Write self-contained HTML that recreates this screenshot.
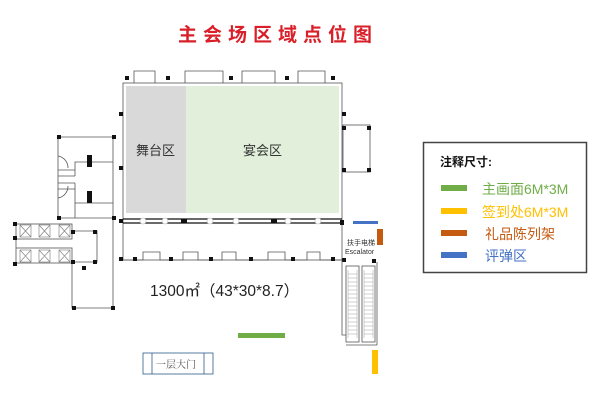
<!DOCTYPE html>
<html><head><meta charset="utf-8"><style>
html,body{margin:0;padding:0;background:#fff;}
svg{display:block;font-family:"Liberation Sans","Noto Sans CJK SC",sans-serif;}
</style></head><body>
<svg width="600" height="400" viewBox="0 0 600 400" xmlns="http://www.w3.org/2000/svg">
<rect width="600" height="400" fill="#fff"/>
<text x="178" y="41" font-size="19" font-weight="bold" fill="#d9202a" letter-spacing="6" font-family="'Noto Sans CJK SC',sans-serif">主会场区域点位图</text>

<!-- main hall -->
<g fill="none" stroke="#555" stroke-width="0.8">
<rect x="123" y="83" width="219" height="177"/>
<polyline points="134,83 134,71 155,71 155,83"/>
<polyline points="185,83 185,71 223,71 223,83"/>
<polyline points="242,83 242,71 275,71 275,83"/>
<polyline points="298,83 298,71 325,71 325,83"/>
<rect x="343" y="125" width="27" height="47"/>
<polyline points="123,260 143,260 143,252 160,252 160,260 183,260 183,252 198,252 198,260 222,260 222,252 236,252 236,260 268,260 268,252 285,252 285,260 307,260 307,252 320,252 320,260 342,260"/>
</g>
<rect x="126" y="86" width="60" height="127" fill="#d9d9d9"/>
<rect x="186" y="86" width="153" height="127" fill="#e2efda"/>
<text x="136" y="155" font-size="13" fill="#333" font-family="'Noto Sans CJK SC',sans-serif">舞台区</text>
<text x="243" y="155" font-size="13" fill="#333" font-family="'Noto Sans CJK SC',sans-serif">宴会区</text>
<!-- double wall -->
<line x1="123" y1="219" x2="342" y2="219" stroke="#111" stroke-width="1.2"/>
<line x1="123" y1="223" x2="342" y2="223" stroke="#111" stroke-width="1.2"/>
<g fill="#fff" stroke="#bbb" stroke-width="0.6">
<circle cx="143" cy="221" r="3"/><circle cx="165" cy="221" r="3"/><circle cx="210" cy="221" r="3"/><circle cx="236" cy="221" r="3"/><circle cx="288" cy="221" r="3"/><circle cx="318" cy="221" r="3"/>
</g>
<g fill="#111">
<rect x="125" y="76" width="4" height="4"/><rect x="166" y="76" width="4" height="4"/><rect x="229" y="76" width="4" height="4"/><rect x="285" y="76" width="4" height="4"/><rect x="331" y="76" width="4" height="4"/>
<rect x="119" y="112" width="4" height="4"/><rect x="342" y="112" width="4" height="4"/>
<rect x="119" y="166" width="4" height="4"/><rect x="342" y="126" width="4" height="4"/><rect x="342" y="168" width="4" height="4"/><rect x="367" y="126" width="4" height="4"/><rect x="367" y="168" width="4" height="4"/>
<rect x="119" y="219" width="4" height="4"/><rect x="181" y="219" width="6" height="4"/><rect x="271" y="219" width="6" height="4"/><rect x="340" y="220" width="4" height="5"/>
<rect x="119" y="257" width="4" height="4"/><rect x="133" y="257" width="4" height="4"/><rect x="169" y="257" width="4" height="4"/><rect x="209" y="257" width="4" height="4"/><rect x="249" y="257" width="4" height="4"/><rect x="291" y="257" width="4" height="4"/><rect x="331" y="257" width="4" height="4"/><rect x="342" y="258" width="4" height="4"/><rect x="372" y="259" width="4" height="4"/>
</g>

<!-- left toilets -->
<g fill="none" stroke="#555" stroke-width="0.8">
<polyline points="58,137 113,137 113,218 58,218 58,137"/>
<line x1="58" y1="170" x2="75" y2="170"/><line x1="58" y1="176" x2="75" y2="176"/>
<line x1="58" y1="183" x2="75" y2="183"/><line x1="58" y1="189" x2="75" y2="189"/>
<polyline points="75,176 75,162 113,162"/><polyline points="75,183 75,203 113,203"/>
<line x1="75" y1="203" x2="75" y2="218"/>
<path d="M58,156 A12,12 0 0 1 68,168"/><path d="M58,198 A12,12 0 0 0 68,186"/>
<rect x="16" y="224" width="56" height="15"/><rect x="16" y="248" width="56" height="15"/>
<polyline points="72,231 97,231 97,262 72,262"/>
<polyline points="72,263 72,308 113,308 113,220"/>
<line x1="16" y1="239" x2="16" y2="248"/>
</g>
<g fill="#111">
<rect x="57" y="135" width="4" height="4"/><rect x="112" y="135" width="4" height="4"/><rect x="57" y="216" width="4" height="4"/><rect x="112" y="216" width="4" height="4"/>
<rect x="13" y="222" width="4" height="4"/><rect x="13" y="236" width="4" height="4"/><rect x="13" y="262" width="4" height="4"/><rect x="71" y="230" width="4" height="4"/><rect x="93" y="230" width="4" height="4"/><rect x="71" y="260" width="4" height="4"/><rect x="93" y="260" width="4" height="4"/><rect x="82" y="266" width="4" height="4"/><rect x="72" y="306" width="4" height="4"/><rect x="111" y="306" width="4" height="4"/>
<rect x="87" y="155" width="5" height="12"/><rect x="87" y="191" width="5" height="12"/>
</g>
<g stroke="#777" stroke-width="0.6" fill="none">
<rect x="20" y="225" width="11" height="12"/><rect x="39" y="225" width="11" height="12"/><rect x="59" y="225" width="11" height="12"/>
<rect x="20" y="250" width="11" height="12"/><rect x="39" y="250" width="11" height="12"/><rect x="59" y="250" width="11" height="12"/>
<path d="M20,225 L31,237 M31,225 L20,237 M39,225 L50,237 M50,225 L39,237 M59,225 L70,237 M70,225 L59,237 M20,250 L31,262 M31,250 L20,262 M39,250 L50,262 M50,250 L39,262 M59,250 L70,262 M70,250 L59,262"/>
</g>

<!-- escalator -->
<text x="347" y="245" font-size="7" fill="#333">扶手电梯</text>
<text x="345" y="254" font-size="7" fill="#333">Escalator</text>
<g fill="none" stroke="#555" stroke-width="0.8">
<polyline points="342,260 342,335 346,335"/>
<rect x="346" y="266" width="13" height="76"/><rect x="362" y="266" width="13" height="76"/>
<line x1="346" y1="345" x2="377" y2="345"/><line x1="377" y1="262" x2="377" y2="345"/>
</g>
<g stroke="#888" stroke-width="0.4">
<path d="M348,270 V338 M357,270 V338 M364,270 V338 M373,270 V338 M348,274H357M348,278H357M348,282H357M348,286H357M348,290H357M348,294H357M348,298H357M348,302H357M348,306H357M348,310H357M348,314H357M348,318H357M348,322H357M348,326H357M348,330H357M348,334H357 M364,274H373M364,278H373M364,282H373M364,286H373M364,290H373M364,294H373M364,298H373M364,302H373M364,306H373M364,310H373M364,314H373M364,318H373M364,322H373M364,326H373M364,330H373M364,334H373"/>
</g>

<!-- markers -->
<rect x="353" y="221" width="25" height="3" fill="#4472c4"/>
<rect x="377" y="229" width="6" height="16" fill="#c55a11"/>
<rect x="372" y="350" width="6" height="24" fill="#ffc000"/>
<rect x="238" y="333" width="47" height="5" fill="#70ad47"/>

<text x="150" y="296" font-size="15.5" fill="#222">1300㎡（43*30*8.7）</text>
<rect x="143" y="353" width="70" height="21" fill="none" stroke="#2e5d8a" stroke-width="0.8"/>
<line x1="152" y1="353" x2="152" y2="374" stroke="#2e5d8a" stroke-width="0.8"/>
<line x1="204" y1="353" x2="204" y2="374" stroke="#2e5d8a" stroke-width="0.8"/>
<text x="156" y="368" font-size="10" fill="#555" font-family="'Noto Serif CJK SC',serif">一层大门</text>

<!-- legend -->
<rect x="423.5" y="142.5" width="163" height="130" fill="#fff" stroke="#444" stroke-width="1.5"/>
<text x="440" y="166" font-size="12" font-weight="bold" fill="#111">注释尺寸:</text>
<rect x="441" y="185" width="26" height="6" fill="#70ad47"/>
<rect x="441" y="208" width="26" height="6" fill="#ffc000"/>
<rect x="441" y="230" width="26" height="6" fill="#c55a11"/>
<rect x="441" y="252" width="26" height="6" fill="#4472c4"/>
<text x="482" y="194" font-size="14" fill="#70ad47">主画面6M*3M</text>
<text x="482" y="217" font-size="14" fill="#ffc000">签到处6M*3M</text>
<text x="485" y="239" font-size="14" fill="#c55a11">礼品陈列架</text>
<text x="485" y="261" font-size="14" fill="#4472c4">评弹区</text>
</svg>
</body></html>
